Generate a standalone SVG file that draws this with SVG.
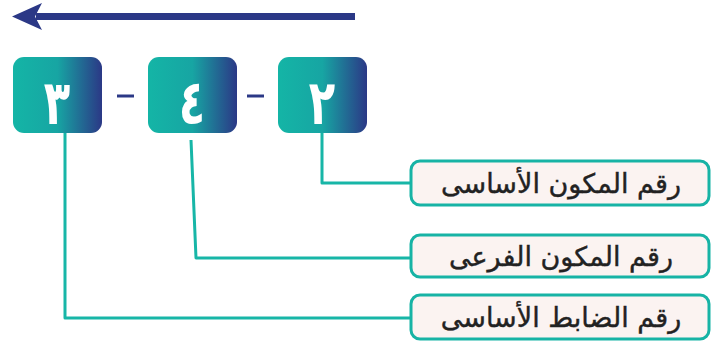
<svg xmlns="http://www.w3.org/2000/svg" width="712" height="343" viewBox="0 0 712 343">
<defs>
<linearGradient id="g" x1="0" y1="0" x2="1" y2="0">
<stop offset="0" stop-color="#14b5a6"/>
<stop offset="0.5" stop-color="#17a5a3"/>
<stop offset="1" stop-color="#2b3886"/>
</linearGradient>
</defs>
<style>
.num{fill:url(#g)}
.digit{fill:#fff;font-family:"DejaVu Sans",sans-serif;font-size:62px;font-weight:bold;text-anchor:middle}
.lbl{fill:#fbf3f1;stroke:#17b3a5;stroke-width:3}
.lt{fill:#222;stroke:#222;stroke-width:0.4;font-family:"DejaVu Sans",sans-serif;font-size:27px;text-anchor:middle}
.con{fill:none;stroke:#17b6a7;stroke-width:3;stroke-linejoin:round}
.dash{stroke:#2b3886;stroke-width:3}
</style>
<g id="arrow">
<line x1="355" y1="16.5" x2="36" y2="16.5" stroke="#2b3886" stroke-width="7"/>
<polygon points="12,16.5 42,3 35,16.5 42,30" fill="#2b3886"/>
</g>
<g id="connectors">
<polyline class="con" points="322,133 322,183 411,183"/>
<polyline class="con" points="191,140 196,258 411,258"/>
<polyline class="con" points="65,133 65,318 411,318"/>
</g>
<g id="box1">
<rect class="num" x="13" y="57" width="89" height="76" rx="11"/>
<text class="digit" transform="translate(57,124) scale(0.7,1)">٣</text>
</g>
<line class="dash" x1="117" y1="96" x2="134" y2="96"/>
<g id="box2">
<rect class="num" x="148" y="57" width="89" height="76" rx="11"/>
<text class="digit" transform="translate(192,124) scale(0.7,1)">٤</text>
</g>
<line class="dash" x1="247" y1="96" x2="264" y2="96"/>
<g id="box3">
<rect class="num" x="278" y="57" width="89" height="76" rx="11"/>
<text class="digit" transform="translate(322,124) scale(0.7,1)">٢</text>
</g>
<g id="label1">
<rect class="lbl" x="411" y="161" width="298" height="44" rx="9"/>
<text class="lt" x="561" y="193">رقم المكون الأساسى</text>
</g>
<g id="label2">
<rect class="lbl" x="411" y="235" width="298" height="42" rx="9"/>
<text class="lt" x="561" y="266">رقم المكون الفرعى</text>
</g>
<g id="label3">
<rect class="lbl" x="411" y="295" width="298" height="44" rx="9"/>
<text class="lt" x="561" y="327">رقم الضابط الأساسى</text>
</g>
</svg>
